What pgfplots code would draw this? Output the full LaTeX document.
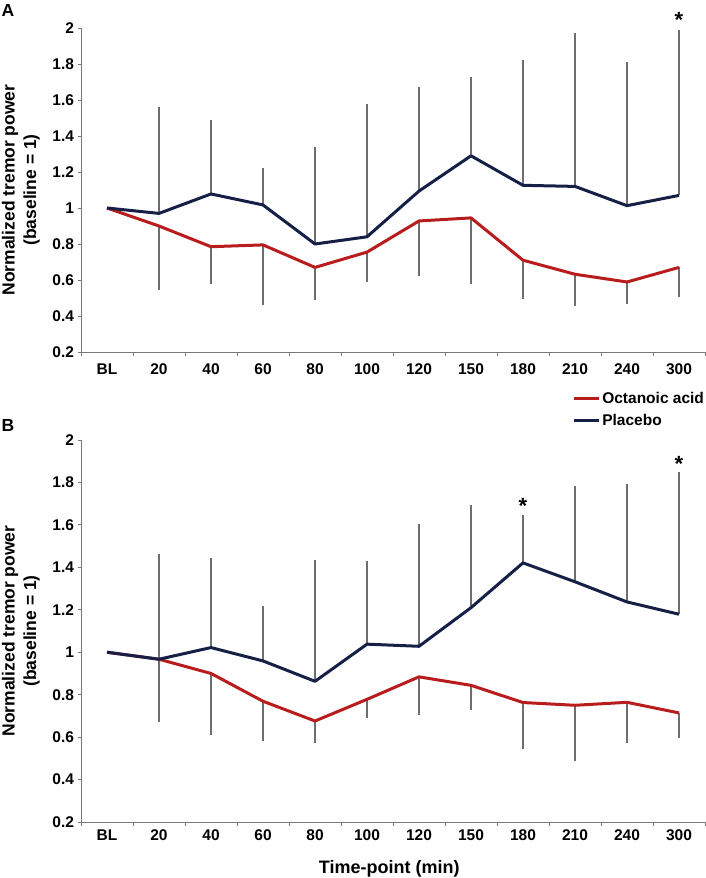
\documentclass[border=0pt]{standalone}
\usepackage{pgfplots}
\pgfplotsset{compat=1.18}
\usepackage{pgfplotstable}
\usepackage{fontspec}
\setmainfont{Liberation Sans}
\definecolor{octred}{RGB}{185,28,28}
\definecolor{plnavy}{RGB}{22,32,70}
\definecolor{axgray}{RGB}{120,120,120}
\definecolor{ebgray}{RGB}{110,110,110}

\pgfplotstableread{
x    p     pt    o     ob
0.5  1.000 1.000 1.000 1.000
1.5  0.970 1.560 0.900 0.544
2.5  1.078 1.490 0.785 0.578
3.5  1.017 1.220 0.795 0.460
4.5  0.800 1.340 0.670 0.490
5.5  0.840 1.580 0.755 0.589
6.5  1.094 1.670 0.928 0.620
7.5  1.290 1.730 0.945 0.580
8.5  1.126 1.820 0.710 0.494
9.5  1.120 1.970 0.632 0.456
10.5 1.013 1.810 0.589 0.467
11.5 1.070 1.990 0.670 0.506
}\dataA

\pgfplotstableread{
x    p     pt    o     ob
0.5  1.000 1.000 1.000 1.000
1.5  0.967 1.462 0.967 0.670
2.5  1.022 1.442 0.900 0.612
3.5  0.959 1.220 0.769 0.582
4.5  0.863 1.433 0.676 0.572
5.5  1.038 1.429 0.778 0.690
6.5  1.028 1.605 0.884 0.706
7.5  1.210 1.692 0.844 0.726
8.5  1.421 1.645 0.763 0.546
9.5  1.332 1.783 0.750 0.486
10.5 1.237 1.791 0.764 0.572
11.5 1.179 1.848 0.714 0.598
}\dataB

\tikzset{sigstar/.style={anchor=north, inner sep=0pt, font=\fontsize{22}{22}\selectfont\bfseries}}

\pgfplotsset{
  panel/.style={
    scale only axis, width=624pt,
    xmin=0, xmax=12, ymin=0.2, ymax=2,
    axis x line*=bottom, axis y line*=left,
    axis line style={draw=axgray, line width=0.8pt},
    tick align=outside,
    xtick={0.5,1.5,2.5,3.5,4.5,5.5,6.5,7.5,8.5,9.5,10.5,11.5},
    xticklabels={BL,20,40,60,80,100,120,150,180,210,240,300},
    minor xtick={0,1,2,3,4,5,6,7,8,9,10,11,12},
    major x tick style={draw=none},
    ytick={0.2,0.4,0.6,0.8,1,1.2,1.4,1.6,1.8,2},
    yticklabels={0.2,0.4,0.6,0.8,1,1.2,1.4,1.6,1.8,2},
    major tick length=3.5pt, minor tick length=3.5pt,
    tick style={draw=axgray, line width=0.8pt},
    tick label style={font=\fontsize{15.5}{18}\selectfont\bfseries},
    /pgf/number format/assume math mode=true,
    ylabel={Normalized tremor power\\(baseline = 1)},
    ylabel style={font=\fontsize{17.5}{21.5}\selectfont\bfseries, align=center,
      at={(axis description cs:-0.0657,0.5)}, anchor=south, inner sep=0pt},
    clip=false,
  },
  ebup/.style={forget plot, draw=none, error bars/.cd, y dir=plus, y explicit,
    error mark=none, error bar style={draw=ebgray, line width=1.1pt}},
  ebdn/.style={forget plot, draw=none, error bars/.cd, y dir=minus, y explicit,
    error mark=none, error bar style={draw=ebgray, line width=1.1pt}},
  octline/.style={octred, line width=3pt, line join=round, mark=none},
  plline/.style={plnavy, line width=3pt, line join=round, mark=none},
}

\begin{document}
\begin{tikzpicture}
\useasboundingbox (0,0) rectangle (706pt,-878pt);

\node[font=\fontsize{17.5}{17.5}\selectfont\bfseries, inner sep=0pt] at (8pt,-10.5pt) {A};
\node[font=\fontsize{17.5}{17.5}\selectfont\bfseries, inner sep=0pt] at (8pt,-425pt) {B};

% Panel A
\begin{axis}[panel, height=324pt, at={(81pt,-352pt)}, anchor=south west,
  xticklabel style={yshift=-5pt}]
\addplot[ebup] table[x=x, y=p, y error expr=\thisrow{pt}-\thisrow{p}] {\dataA};
\addplot[ebdn] table[x=x, y=o, y error expr=\thisrow{o}-\thisrow{ob}] {\dataA};
\addplot[octline] table[x=x, y=o] {\dataA};
\addplot[plline] table[x=x, y=p] {\dataA};
\node[sigstar] at (axis cs:11.5,2.09) {*};
\end{axis}

% Panel B
\begin{axis}[panel, height=382pt, at={(81pt,-822pt)}, anchor=south west,
  xticklabel style={yshift=-1pt},
  xlabel={Time-point (min)},
  xlabel style={font=\fontsize{18}{21}\selectfont\bfseries,
    at={(axis description cs:0.494,0)}, anchor=north, inner sep=0pt, yshift=-38pt},
  legend style={at={(axis description cs:0.787,1.131)}, anchor=north west,
    draw=none, fill=none, font=\fontsize{15.5}{18}\selectfont\bfseries,
    inner sep=0pt, row sep=5pt, cells={anchor=west}},
  legend image code/.code={\draw[#1] (0pt,0pt) -- (25pt,0pt);},
  ]
\addplot[ebup] table[x=x, y=p, y error expr=\thisrow{pt}-\thisrow{p}] {\dataB};
\addplot[ebdn] table[x=x, y=o, y error expr=\thisrow{o}-\thisrow{ob}] {\dataB};
\addplot[octline] table[x=x, y=o] {\dataB};
\addlegendentry{Octanoic acid}
\addplot[plline] table[x=x, y=p] {\dataB};
\addlegendentry{Placebo}
\node[sigstar] at (axis cs:8.5,1.727) {*};
\node[sigstar] at (axis cs:11.5,1.926) {*};
\end{axis}
\end{tikzpicture}
\end{document}
